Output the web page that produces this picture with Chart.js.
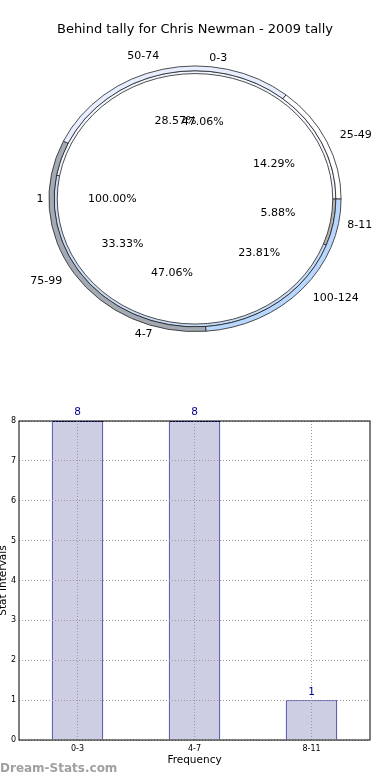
<!DOCTYPE html>
<html>
<head>
<meta charset="utf-8">
<script src="https://cdn.jsdelivr.net/npm/chart.js@4/dist/chart.umd.min.js"></script>
<style>
  body { margin: 0; background: #fff; width: 390px; height: 780px; overflow: hidden; position: relative; }
  canvas { display: block; }
  #brand { position: absolute; left: 0; top: 761px; font: bold 12px 'DejaVu Sans'; color: #a0a0a0; }
</style>
</head>
<body>
<canvas id="pie-chart" width="390" height="400"></canvas>
<canvas id="bar-chart" width="390" height="380"></canvas>
<div id="brand">Dream-Stats.com</div>
<script>
'use strict';

/*===== Donnees =====*/
const chartTitle = 'Behind tally for Chris Newman - 2009 tally';

// anneau exterieur
const outerLabels = ['25-49', '50-74', '75-99', '100-124'];
const outerCounts = [3, 6, 7, 5];
const outerColors = ['#ffffff', '#e8eeff', '#a4aab4', '#b8d8ff'];

// anneau du milieu
const middleLabels = ['0-3', '4-7', '8-11'];
const middleCounts = [8, 8, 1];
const middleColors = ['#f2f6ff', '#c9dcf5', '#b4b4b4'];

// disque central
const innerLabels = ['1'];
const innerCounts = [1];
const innerColors = ['#ffffff'];

// histogramme
const barLabels = ['0-3', '4-7', '8-11'];
const barValues = [8, 8, 1];
const yTicks = [0, 1, 2, 3, 4, 5, 6, 7, 8];

Chart.defaults.font.family = "'DejaVu Sans'";
Chart.defaults.color = '#000';

const sx = 1.045, sy = 0.95; // le camembert d'origine est un peu aplati

/*===== Camembert a anneaux =====*/
// matplotlib tourne dans le sens inverse, donc on inverse l'ordre
function ring(labels, counts, colors, weight, border) {
  return {
    data: counts.slice().reverse(),
    names: labels.slice().reverse(),
    backgroundColor: colors.slice().reverse(),
    borderColor: '#222',
    borderWidth: border,
    weight: weight
  };
}

const ellipsePlugin = {
  id: 'ellipse',
  beforeDatasetsDraw(chart) {
    const a = chart.chartArea;
    const cx = (a.left + a.right) / 2, cy = (a.top + a.bottom) / 2;
    const c = chart.ctx;
    c.save();
    c.translate(cx, cy);
    c.scale(sx, sy);
    c.translate(-cx, -cy);
  },
  afterDatasetsDraw(chart) {
    chart.ctx.restore();
  }
};

const pieTextPlugin = {
  id: 'pieText',
  afterDraw(chart) {
    const c = chart.ctx;
    c.save();
    c.font = "11px 'DejaVu Sans'";
    c.fillStyle = '#000';
    c.textBaseline = 'middle';
    chart.data.datasets.forEach((ds, d) => {
      const total = ds.data.reduce((s, v) => s + v, 0);
      chart.getDatasetMeta(d).data.forEach((arc, i) => {
        const mid = (arc.startAngle + arc.endAngle) / 2;
        const r = arc.outerRadius;
        const cos = Math.cos(mid), sin = Math.sin(mid);
        c.textAlign = cos > 0 ? 'left' : 'right';
        c.fillText(ds.names[i], arc.x + cos * r * 1.1 * sx, arc.y + sin * r * 1.1 * sy);
        c.textAlign = 'center';
        const pct = (ds.data[i] / total * 100).toFixed(2) + '%';
        c.fillText(pct, arc.x + cos * r * 0.6 * sx, arc.y + sin * r * 0.6 * sy);
      });
    });
    c.restore();
  }
};

const pst = document.getElementById('pie-chart').getContext('2d');
new Chart(pst, {
  type: 'pie',
  data: {
    datasets: [
      ring(outerLabels, outerCounts, outerColors, 5, 0.8),
      ring(middleLabels, middleCounts, middleColors, 3, 0.8),
      ring(innerLabels, innerCounts, innerColors, 132, 0)
    ]
  },
  options: {
    responsive: false,
    animation: false,
    rotation: 90,
    layout: { padding: { top: 0, bottom: 61, left: 0, right: 0 } },
    plugins: {
      legend: { display: false },
      tooltip: { enabled: false },
      title: {
        display: true,
        text: chartTitle,
        color: '#000',
        font: { size: 13, weight: 'normal' },
        padding: { top: 22, bottom: 21 }
      }
    }
  },
  plugins: [ellipsePlugin, pieTextPlugin]
});

/*===== Histogramme =====*/
const barTextPlugin = {
  id: 'barText',
  afterDraw(chart) {
    const c = chart.ctx;
    const a = chart.chartArea;
    c.save();
    // cadre complet
    c.strokeStyle = '#000';
    c.lineWidth = 1;
    c.strokeRect(a.left, a.top, a.right - a.left, a.bottom - a.top);
    // valeurs au dessus des barres
    c.font = "10.5px 'DejaVu Sans'";
    c.fillStyle = '#00008b';
    c.textAlign = 'center';
    c.textBaseline = 'bottom';
    chart.getDatasetMeta(0).data.forEach((bar, i) => {
      c.fillText(String(barValues[i]), bar.x, bar.y - 3);
    });
    c.restore();
  }
};

const bst = document.getElementById('bar-chart').getContext('2d');
new Chart(bst, {
  type: 'bar',
  data: {
    labels: barLabels,
    datasets: [{
      data: barValues,
      backgroundColor: '#cdcde4',
      borderColor: '#00008b',
      borderWidth: 1,
      barPercentage: 0.44,
      categoryPercentage: 1
    }]
  },
  options: {
    responsive: false,
    animation: false,
    layout: { padding: { top: 21, right: 20, bottom: 0, left: 0 } },
    plugins: {
      legend: { display: false },
      tooltip: { enabled: false }
    },
    scales: {
      x: {
        afterFit: s => { s.height = 40; },
        grid: { color: '#9a9a9a', offset: false, drawTicks: false, z: 1 },
        border: { display: false, dash: [1, 2] },
        ticks: { font: { size: 8 }, padding: 4, color: '#000' },
        title: {
          display: true, text: 'Frequency', color: '#000',
          font: { size: 10.5 }, padding: { top: 0, bottom: 13.5 }
        }
      },
      y: {
        min: yTicks[0],
        max: yTicks[yTicks.length - 1],
        afterFit: s => { s.width = 19; },
        afterBuildTicks: s => { s.ticks = yTicks.map(v => ({ value: v })); },
        grid: { color: '#9a9a9a', drawTicks: false, z: 1 },
        border: { display: false, dash: [1, 2] },
        ticks: { font: { size: 8 }, padding: 3, color: '#000' },
        title: {
          display: true, text: 'Stat Intervals', color: '#000',
          font: { size: 10.5 }, padding: { top: -3, bottom: 0 }
        }
      }
    }
  },
  plugins: [barTextPlugin]
});
</script>
</body>
</html>
